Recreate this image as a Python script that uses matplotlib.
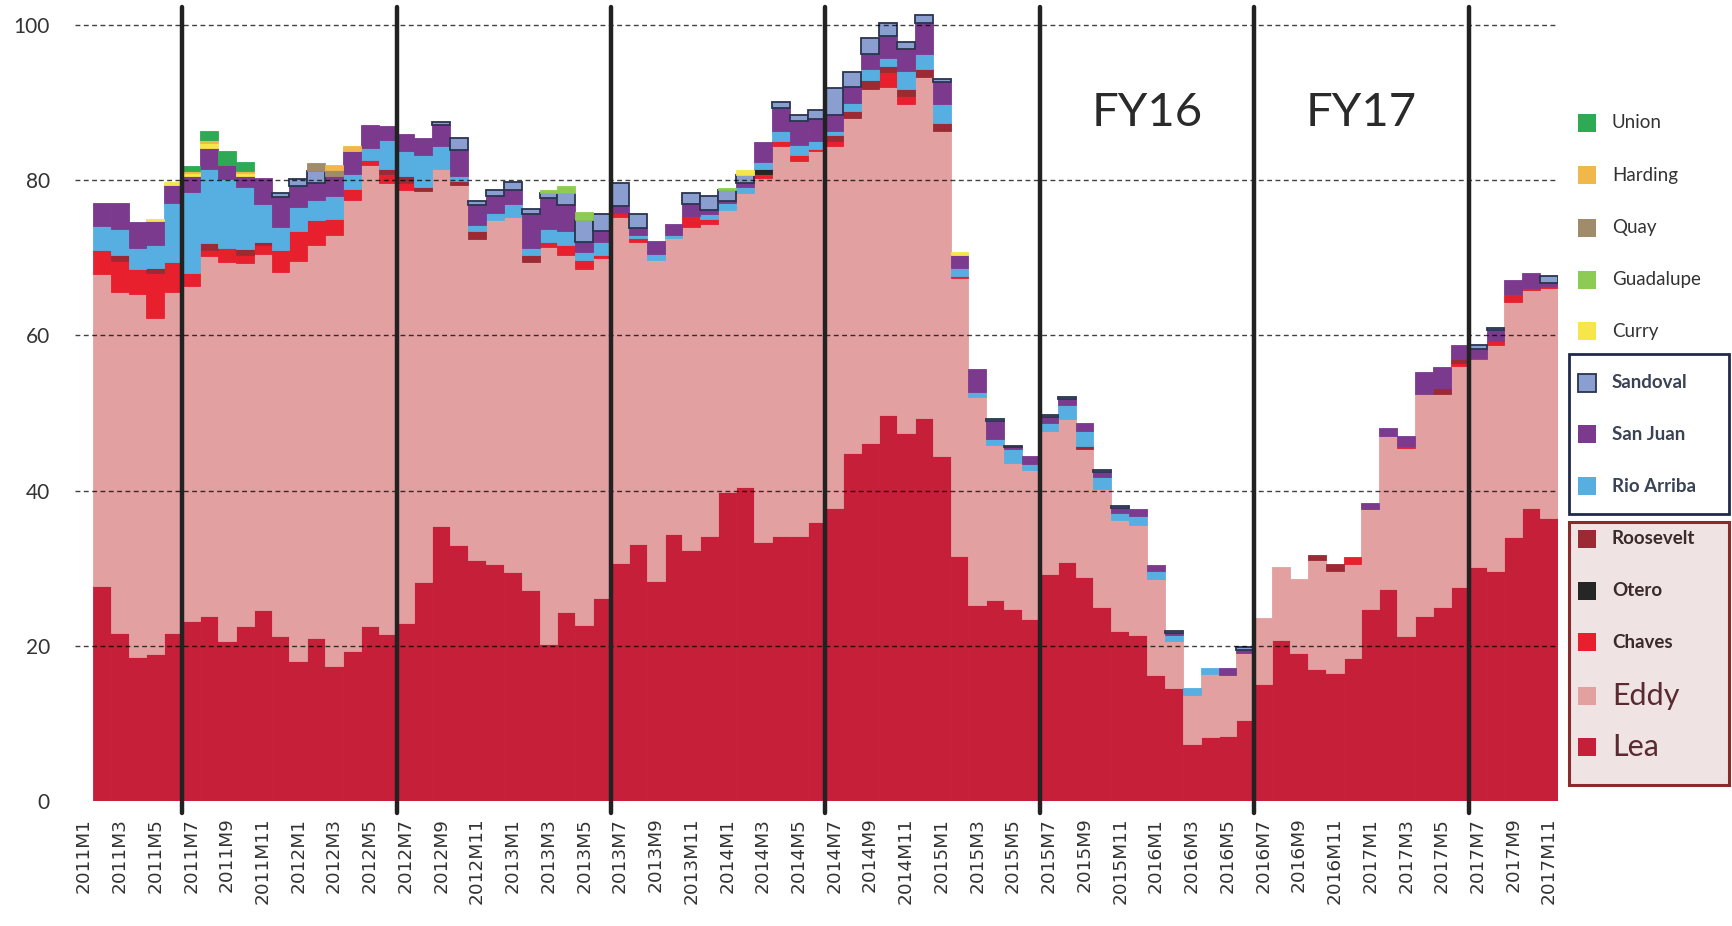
import matplotlib
matplotlib.use("Agg")
import matplotlib.pyplot as plt
from matplotlib.patches import Rectangle
import numpy as np

# ---------------- data ----------------
months = [f"{y}M{m}" for y in range(2011, 2018) for m in range(1, 13)][:83]

lea = [0, 27.7, 21.7, 18.5, 19.0, 21.6, 23.2, 23.9, 20.6, 22.6, 24.6, 21.2,
       18.1, 21.0, 17.4, 19.3, 22.5, 21.5, 22.9, 28.2, 35.4, 33.0, 31.0, 30.6,
       29.5, 27.2, 20.2, 24.4, 22.7, 26.1, 30.7, 33.1, 28.4, 34.4, 32.4, 34.1,
       39.8, 40.4, 33.4, 34.1, 34.2, 36.0, 37.8, 44.8, 46.1, 49.8, 47.4, 49.4,
       44.5, 31.6, 25.2, 25.9, 24.8, 23.5, 29.3, 30.8, 28.9, 25.0, 21.9, 21.4,
       16.3, 14.5, 7.4, 8.2, 8.4, 10.4, 15.1, 20.8, 19.1, 17.0, 16.5, 18.4,
       24.7, 27.3, 21.3, 23.9, 25.0, 27.6, 30.1, 29.7, 34.0, 37.8, 36.5]

eddy = [0, 40.2, 43.9, 46.8, 43.2, 44.0, 43.2, 46.3, 48.9, 46.7, 45.9, 47.0,
        51.5, 50.6, 55.6, 58.1, 59.4, 58.2, 55.8, 50.4, 46.0, 46.4, 41.4, 44.3,
        45.7, 42.3, 51.2, 46.0, 45.8, 43.9, 44.6, 38.9, 41.3, 38.2, 41.6, 40.3,
        36.3, 38.0, 46.9, 50.3, 48.3, 47.7, 46.6, 43.2, 45.6, 42.2, 42.4, 43.9,
        41.9, 35.8, 26.8, 20.0, 18.8, 19.1, 18.4, 18.4, 16.4, 15.2, 14.3, 14.2,
        12.3, 6.1, 6.2, 8.2, 7.8, 8.7, 8.5, 9.3, 9.5, 14.0, 13.2, 12.1,
        12.9, 19.8, 24.2, 28.5, 27.4, 28.4, 26.8, 29.0, 30.3, 28.1, 29.6]

chaves = [0, 3.1, 4.0, 3.2, 5.8, 3.8, 1.7, 0.8, 1.8, 1.1, 1.2, 2.8,
          3.8, 3.3, 2.0, 1.5, 0.7, 1.1, 1.0, 0, 0, 0, 0, 0,
          0, 0, 0.7, 1.2, 1.2, 0.4, 0.5, 0.6, 0, 0, 1.4, 0.6,
          0, 0, 0.5, 0.7, 0.8, 0.3, 0.6, 0, 0, 2.0, 1.1, 0,
          0, 0.2, 0, 0, 0, 0, 0, 0, 0, 0, 0, 0,
          0, 0, 0, 0, 0, 0, 0, 0, 0, 0, 0, 0.9,
          0, 0, 0.2, 0, 0, 0.4, 0.2, 0.6, 1.0, 0.2, 0.3]

otero = [0, 0, 0, 0, 0, 0, 0, 0, 0, 0, 0, 0,
         0, 0, 0, 0, 0, 0, 0, 0, 0, 0, 0, 0,
         0, 0, 0, 0, 0, 0, 0, 0, 0, 0, 0, 0,
         0, 0, 0.6, 0, 0, 0, 0, 0, 0, 0, 0, 0,
         0, 0, 0, 0, 0, 0, 0, 0, 0, 0, 0, 0,
         0, 0, 0, 0, 0, 0, 0, 0, 0, 0, 0, 0,
         0, 0, 0, 0, 0, 0, 0, 0, 0, 0, 0]

roosevelt = [0, 0, 0.7, 0, 0.7, 0, 0, 0.9, 0, 0.7, 0.4, 0,
             0, 0, 0, 0, 0, 0.7, 0.9, 0.5, 0, 0.5, 1.0, 0,
             0, 0.8, 0, 0, 0, 0, 0, 0, 0, 0, 0, 0,
             0, 0, 0, 0, 0, 0, 0.8, 0.9, 1.2, 0.7, 0.9, 1.0,
             1.0, 0, 0, 0, 0, 0, 0, 0, 0.4, 0, 0, 0,
             0, 0, 0, 0, 0, 0, 0, 0, 0, 0.7, 0.9, 0,
             0, 0, 0, 0, 0.8, 0.5, 0, 0, 0, 0, 0]

rio_arriba = [0, 3.1, 3.4, 2.8, 3.0, 7.7, 10.4, 9.6, 8.9, 8.0, 4.8, 3.0,
              3.2, 2.6, 2.9, 1.9, 1.5, 3.7, 3.1, 4.1, 3.0, 0.7, 0.8, 0.9,
              1.7, 1.0, 1.6, 1.8, 1.0, 1.6, 0, 0.4, 0.8, 0.4, 0, 0.6,
              0.9, 0.7, 1.0, 1.3, 1.3, 1.1, 0.6, 1.1, 1.4, 1.0, 2.3, 1.9,
              2.4, 1.1, 0.7, 0.8, 1.7, 0.8, 1.0, 1.8, 2.0, 1.5, 0.9, 1.1,
              1.0, 0.8, 0.9, 0.8, 0, 0, 0, 0, 0, 0, 0, 0,
              0, 0, 0, 0, 0, 0, 0, 0, 0, 0, 0]

san_juan = [0, 3.0, 3.4, 3.3, 3.0, 2.3, 2.1, 2.7, 1.7, 1.5, 3.4, 3.8,
            2.7, 2.2, 2.7, 3.0, 3.0, 1.8, 2.3, 2.3, 2.7, 3.3, 2.6, 2.1,
            1.9, 4.4, 4.0, 3.4, 1.3, 1.4, 0.9, 0.9, 1.7, 1.3, 1.5, 0.5,
            0.3, 0.6, 2.5, 2.9, 3.0, 2.8, 2.0, 2.0, 1.9, 2.9, 2.8, 4.1,
            2.8, 1.7, 3.0, 2.3, 0.3, 1.1, 0.8, 0.8, 1.0, 0.7, 0.7, 0.9,
            0.8, 0.3, 0, 0, 1.0, 0.4, 0, 0, 0, 0, 0, 0,
            0.8, 1.0, 1.4, 2.9, 2.7, 1.8, 1.1, 1.4, 1.8, 1.9, 0.4]

sandoval = [0, 0, 0, 0, 0, 0, 0, 0, 0, 0, 0, 0.5,
            0.9, 1.5, 0, 0, 0, 0, 0, 0, 0.4, 1.5, 0.5, 0.9,
            1.0, 0.6, 0.6, 1.5, 2.9, 2.2, 2.9, 1.7, 0, 0, 1.4, 1.8,
            1.5, 1.0, 0, 0.8, 0.8, 1.2, 3.5, 2.0, 2.1, 1.6, 0.9, 1.0,
            0.4, 0, 0, 0.2, 0.2, 0, 0.2, 0.2, 0, 0.2, 0.2, 0,
            0, 0.2, 0, 0, 0, 0.3, 0, 0, 0, 0, 0, 0,
            0, 0, 0, 0, 0, 0, 0.6, 0.3, 0, 0, 0.8]

curry = [0, 0, 0, 0, 0.3, 0.4, 0.3, 0.6, 0, 0.3, 0, 0,
         0, 0, 0, 0, 0, 0, 0, 0, 0, 0, 0, 0,
         0, 0, 0, 0, 0, 0, 0, 0, 0, 0, 0, 0,
         0, 0.6, 0, 0, 0, 0, 0, 0, 0, 0, 0, 0,
         0, 0.3, 0, 0, 0, 0, 0, 0, 0, 0, 0, 0,
         0, 0, 0, 0, 0, 0, 0, 0, 0, 0, 0, 0,
         0, 0, 0, 0, 0, 0, 0, 0, 0, 0, 0]

guadalupe = [0, 0, 0, 0, 0, 0, 0, 0, 0, 0, 0, 0,
             0, 0, 0, 0, 0, 0, 0, 0, 0, 0, 0, 0,
             0, 0, 0.5, 1.0, 1.0, 0, 0, 0, 0, 0, 0, 0,
             0.2, 0, 0, 0, 0, 0, 0, 0, 0, 0, 0, 0,
             0, 0, 0, 0, 0, 0, 0, 0, 0, 0, 0, 0,
             0, 0, 0, 0, 0, 0, 0, 0, 0, 0, 0, 0,
             0, 0, 0, 0, 0, 0, 0, 0, 0, 0, 0]

quay = [0, 0, 0, 0, 0, 0, 0, 0, 0, 0, 0, 0,
        0, 1.0, 0.7, 0, 0, 0, 0, 0, 0, 0, 0, 0,
        0, 0, 0, 0, 0, 0, 0, 0, 0, 0, 0, 0,
        0, 0, 0, 0, 0, 0, 0, 0, 0, 0, 0, 0,
        0, 0, 0, 0, 0, 0, 0, 0, 0, 0, 0, 0,
        0, 0, 0, 0, 0, 0, 0, 0, 0, 0, 0, 0,
        0, 0, 0, 0, 0, 0, 0, 0, 0, 0, 0]

harding = [0, 0, 0, 0, 0, 0, 0.3, 0.4, 0, 0.3, 0, 0,
           0, 0, 0.7, 0.6, 0, 0, 0, 0, 0, 0, 0, 0,
           0, 0, 0, 0, 0, 0, 0, 0, 0, 0, 0, 0,
           0, 0, 0, 0, 0, 0, 0, 0, 0, 0, 0, 0,
           0, 0, 0, 0, 0, 0, 0, 0, 0, 0, 0, 0,
           0, 0, 0, 0, 0, 0, 0, 0, 0, 0, 0, 0,
           0, 0, 0, 0, 0, 0, 0, 0, 0, 0, 0]

union = [0, 0, 0, 0, 0, 0, 0.6, 1.1, 1.9, 1.1, 0, 0,
         0, 0, 0, 0, 0, 0, 0, 0, 0, 0, 0, 0,
         0, 0, 0, 0, 0, 0, 0, 0, 0, 0, 0, 0,
         0, 0, 0, 0, 0, 0, 0, 0, 0, 0, 0, 0,
         0, 0, 0, 0, 0, 0, 0, 0, 0, 0, 0, 0,
         0, 0, 0, 0, 0, 0, 0, 0, 0, 0, 0, 0,
         0, 0, 0, 0, 0, 0, 0, 0, 0, 0, 0]

series_names = ["Lea", "Eddy", "Chaves", "Otero", "Roosevelt", "Rio Arriba",
                "San Juan", "Sandoval", "Curry", "Guadalupe", "Quay", "Harding", "Union"]
series_values = [lea, eddy, chaves, otero, roosevelt, rio_arriba,
                 san_juan, sandoval, curry, guadalupe, quay, harding, union]
series_colors = ["#c61f3a", "#e3a0a1", "#e8202e", "#262626", "#9b2a35", "#56afe0",
                 "#7b3a8e", "#8a9fcf", "#f6e64a", "#8ccc55", "#a08c6a", "#f0b84a", "#2eaa55"]

fy_boundaries = ["2011M7", "2012M7", "2013M7", "2014M7", "2015M7", "2016M7", "2017M7"]
fy_labels = ["FY16", "FY17"]
fy_label_spans = [("2015M7", "2016M7"), ("2016M7", "2017M7")]

# ---------------- figure ----------------
W, H = 1733, 926
fig = plt.figure(figsize=(W / 100, H / 100), dpi=100)
fig.patch.set_facecolor("white")
YTOP = 103.0
px_per_unit = (801 - 25) / 100.0
top_px = 801 - YTOP * px_per_unit
ax = fig.add_axes([75 / W, 1 - 801 / H, (1558 - 75) / W, (801 - top_px) / H])
ax.patch.set_alpha(0)

x = np.arange(len(months))
bottom = np.zeros(len(months))
for name, vals, col in zip(series_names, series_values, series_colors):
    v = np.array(vals, dtype=float)
    if name == "Sandoval":
        lw = np.where(v > 0, 1.3, 0.0)
        ax.bar(x, v, width=1.0, bottom=bottom, color=col, edgecolor="#2a3350",
               linewidth=lw, zorder=2)
    else:
        lw = np.where(v > 0, 0.6, 0.0)
        ax.bar(x, v, width=1.0, bottom=bottom, color=col, edgecolor=col,
               linewidth=lw, zorder=2)
    bottom += v

ax.set_xlim(-0.5, len(months) - 0.5)
ax.set_ylim(0, YTOP)

# gridlines
for yv in [20, 40, 60, 80, 100]:
    ax.axhline(yv, color="black", linestyle=(0, (3.5, 2.5)), linewidth=1.0,
               alpha=0.75, zorder=3)

for s in ax.spines.values():
    s.set_visible(False)

ax.set_yticks([0, 20, 40, 60, 80, 100])
ax.set_yticklabels(["0", "20", "40", "60", "80", "100"], family="Lato",
                   fontsize=15, color="#333333")
ax.tick_params(axis="y", length=0, pad=18)

ax.set_xticks(x[::2])
ax.set_xticklabels(months[::2], rotation=90, fontsize=13.3, color="#333333",
                   family="DejaVu Sans")
ax.tick_params(axis="x", length=0, pad=12)

# fiscal year lines
for b in fy_boundaries:
    xb = months.index(b) - 0.5
    ax.plot([xb, xb], [-1.6, 102.3], color="#222222", linewidth=3.2,
            solid_capstyle="round", clip_on=False, zorder=5)

for lab, (a, b) in zip(fy_labels, fy_label_spans):
    xc = (months.index(a) + months.index(b)) / 2 - 0.5
    ax.text(xc, 88.7, lab, ha="center", va="center", fontsize=34,
            family="Lato", color="#2a2a2a", zorder=6)

# ---------------- legend (manual) ----------------
legend_order = series_names[::-1]
legend_colors = series_colors[::-1]
ypos = [123, 175, 228, 280, 331, 383, 434, 486, 539, 591, 642, 696, 747]

fig.patches.append(Rectangle((1569 / W, 1 - 514 / H), (1729 - 1569) / W, (514 - 354) / H,
                             transform=fig.transFigure, facecolor="white",
                             edgecolor="#1f2a4a", linewidth=2.0, zorder=1))
fig.patches.append(Rectangle((1569 / W, 1 - 785 / H), (1729 - 1569) / W, (785 - 522) / H,
                             transform=fig.transFigure, facecolor="#efe3e3",
                             edgecolor="#8a2a2a", linewidth=2.2, zorder=1))

for name, col, yp in zip(legend_order, legend_colors, ypos):
    ec = "#2a3350" if name == "Sandoval" else col
    lw = 1.3 if name == "Sandoval" else 0
    fig.patches.append(Rectangle((1578 / W, 1 - (yp + 9) / H), 18 / W, 18 / H,
                                 transform=fig.transFigure, facecolor=col,
                                 edgecolor=ec, linewidth=lw, zorder=3))
    if name in ("Eddy", "Lea"):
        fs, fw, tc = 22, "normal", "#5a2a30"
    elif name in ("Roosevelt", "Otero", "Chaves"):
        fs, fw, tc = 13.5, "bold", "#3a2a2a"
    elif name in ("Sandoval", "San Juan", "Rio Arriba"):
        fs, fw, tc = 13.5, "bold", "#3a4256"
    else:
        fs, fw, tc = 13.5, "normal", "#333333"
    fig.text(1612 / W, 1 - yp / H, name, ha="left", va="center", fontsize=fs,
             fontweight=fw, color=tc, family="Lato", zorder=4)

fig.savefig("out.png", dpi=100)
